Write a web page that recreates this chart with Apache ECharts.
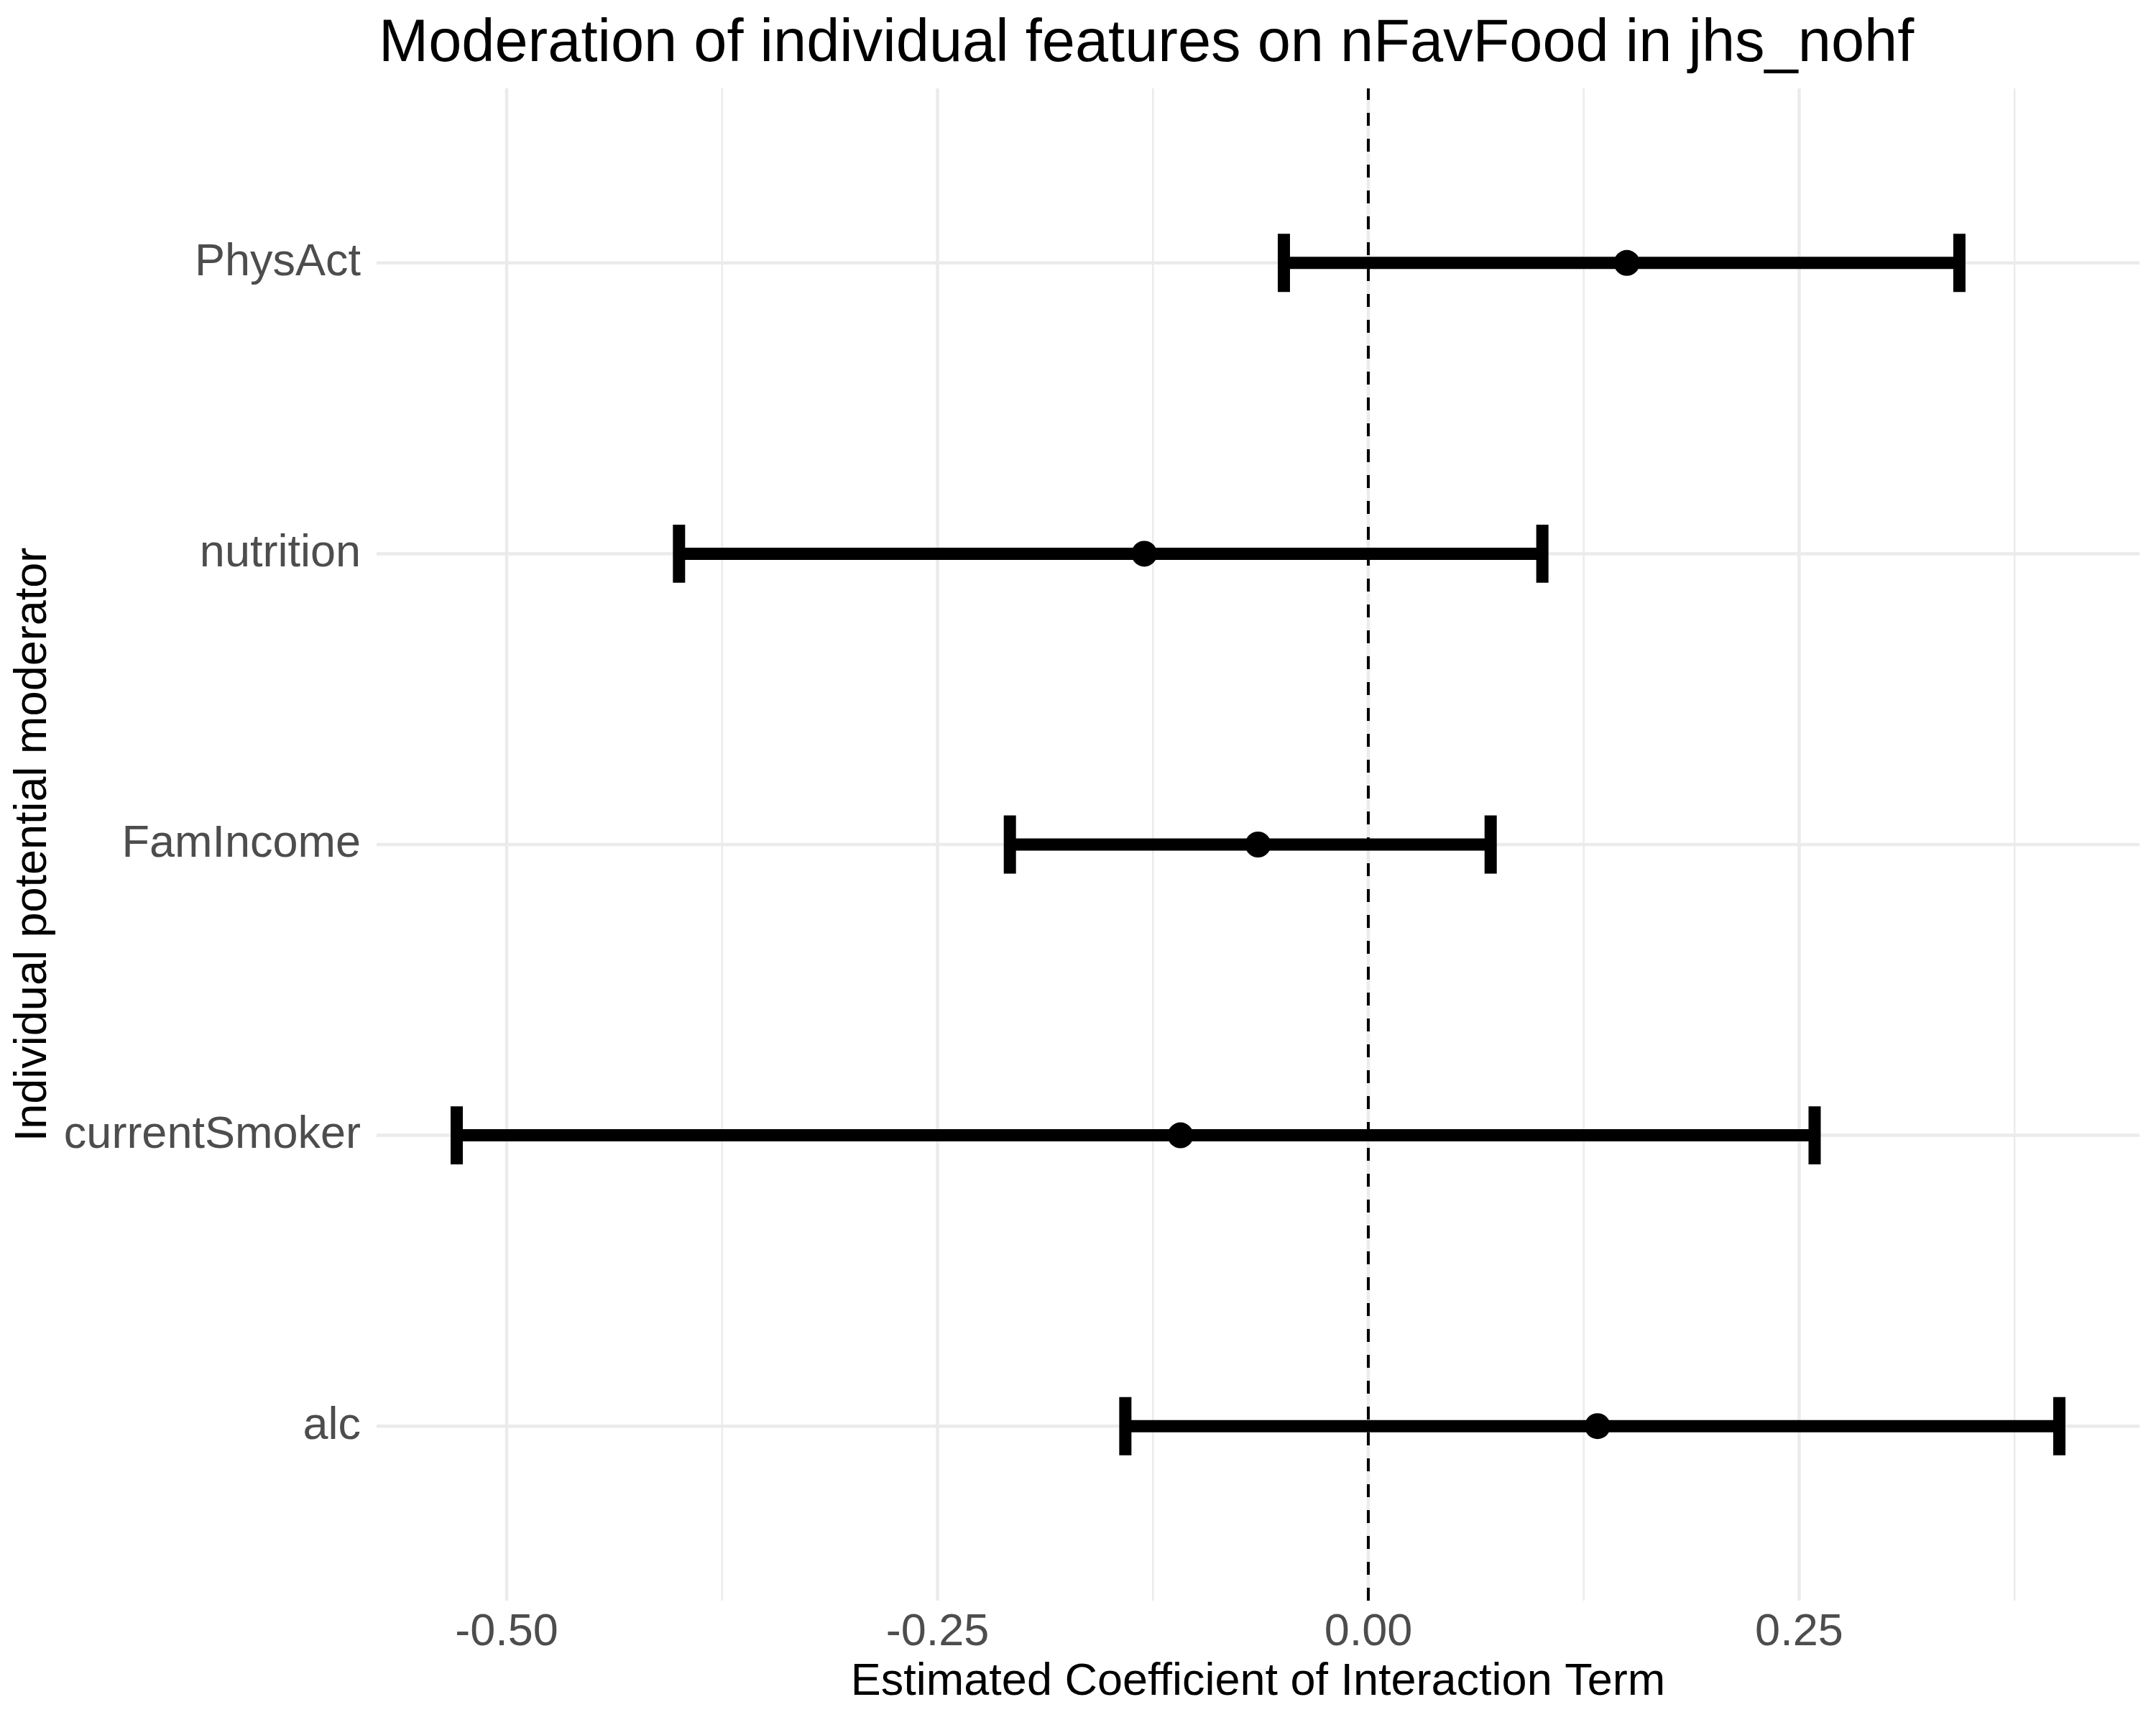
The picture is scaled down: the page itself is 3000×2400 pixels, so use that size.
<!DOCTYPE html>
<html>
<head>
<meta charset="utf-8">
<script src="https://cdn.jsdelivr.net/npm/echarts@6/dist/echarts.min.js"></script>
<style>
html,body{margin:0;padding:0;background:#fff;}
#chart{width:3000px;height:2400px;}
</style>
</head>
<body>
<div id="chart"></div>
<script>
// ---- data ----
const categories = ['alc', 'currentSmoker', 'FamIncome', 'nutrition', 'PhysAct'];
const estimates  = [0.133, -0.109, -0.064, -0.130, 0.150];
const lowerCI    = [-0.141, -0.529, -0.208, -0.400, -0.049];
const upperCI    = [0.401, 0.259, 0.071, 0.101, 0.343];
const xTickValues  = [-0.5, -0.25, 0, 0.25];
const xMinorValues = [-0.375, -0.125, 0.125, 0.375];
const refLineValue = 0;

// ---- scales (ggplot-like expansion) ----
const lo = Math.min.apply(null, lowerCI);
const hi = Math.max.apply(null, upperCI);
const pad = 0.05 * (hi - lo);
const xMin = lo - pad, xMax = hi + pad;
const yMin = 1 - 0.6, yMax = categories.length + 0.6;
const catPos = categories.map((c, i) => i + 1);

const FONT = '"Liberation Sans", Arial, Helvetica, sans-serif';
const GRID = '#EBEBEB';

const chart = echarts.init(document.getElementById('chart'), null, {renderer: 'canvas'});

const gridLineData = []
  .concat(xTickValues.map(v => ({value: [v, 0], kind: 'vmajor'})))
  .concat(xMinorValues.map(v => ({value: [v, 0], kind: 'vminor'})))
  .concat(catPos.map(p => ({value: [0, p], kind: 'h'})));

const option = {
  backgroundColor: '#ffffff',
  animation: false,
  title: {
    text: 'Moderation of individual features on nFavFood in jhs_nohf',
    left: 522,
    top: 16,
    textStyle: {fontFamily: FONT, fontSize: 83, fontWeight: 'normal', color: '#000'}
  },
  grid: {left: 524, right: 23, top: 123, bottom: 173, containLabel: false},
  xAxis: {
    type: 'value',
    min: xMin,
    max: xMax,
    name: 'Estimated Coefficient of Interaction Term',
    nameLocation: 'middle',
    nameGap: 82,
    nameTextStyle: {fontFamily: FONT, fontSize: 63, color: '#000'},
    axisLine: {show: false},
    axisTick: {show: false},
    splitLine: {show: false},
    axisLabel: {
      customValues: xTickValues,
      formatter: v => v.toFixed(2),
      fontFamily: FONT, fontSize: 63, color: '#4D4D4D', margin: 13
    }
  },
  yAxis: {
    type: 'value',
    min: yMin,
    max: yMax,
    name: 'Individual potential moderator',
    nameLocation: 'middle',
    nameGap: 429,
    nameRotate: 90,
    nameTextStyle: {fontFamily: FONT, fontSize: 63, color: '#000'},
    axisLine: {show: false},
    axisTick: {show: false},
    splitLine: {show: false},
    axisLabel: {
      customValues: catPos,
      formatter: v => categories[Math.round(v) - 1] || '',
      fontFamily: FONT, fontSize: 63, color: '#4D4D4D', margin: 22
    }
  },
  series: [
    {
      type: 'custom',
      name: 'grid',
      silent: true,
      z: 0,
      clip: false,
      data: gridLineData,
      renderItem: function (params, api) {
        const item = gridLineData[params.dataIndex];
        let p1, p2, w;
        if (item.kind === 'h') {
          p1 = api.coord([xMin, item.value[1]]);
          p2 = api.coord([xMax, item.value[1]]);
          w = 4.5;
        } else {
          p1 = api.coord([item.value[0], yMin]);
          p2 = api.coord([item.value[0], yMax]);
          w = item.kind === 'vmajor' ? 4.5 : 2.5;
        }
        return {
          type: 'line',
          shape: {x1: p1[0], y1: p1[1], x2: p2[0], y2: p2[1]},
          style: {stroke: GRID, lineWidth: w, lineCap: 'butt'}
        };
      }
    },
    {
      type: 'custom',
      name: 'ref',
      silent: true,
      z: 1,
      data: [[refLineValue]],
      renderItem: function (params, api) {
        const p1 = api.coord([api.value(0), yMin]);
        const p2 = api.coord([api.value(0), yMax]);
        return {
          type: 'line',
          shape: {x1: p1[0], y1: p1[1], x2: p2[0], y2: p2[1]},
          style: {stroke: '#000', lineWidth: 4, lineDash: [18, 18], lineCap: 'butt'}
        };
      }
    },
    {
      type: 'custom',
      name: 'errorbars',
      silent: true,
      z: 2,
      data: categories.map((c, i) => [lowerCI[i], upperCI[i], catPos[i]]),
      renderItem: function (params, api) {
        const l = api.value(0), u = api.value(1), y = api.value(2);
        const a = api.coord([l, y]);
        const b = api.coord([u, y]);
        const capTop = api.coord([l, y + 0.1])[1];
        const capBot = api.coord([l, y - 0.1])[1];
        const st = {stroke: '#000', lineWidth: 17, lineCap: 'butt'};
        return {
          type: 'group',
          children: [
            {type: 'line', shape: {x1: a[0], y1: a[1], x2: b[0], y2: b[1]}, style: st},
            {type: 'line', shape: {x1: a[0], y1: capTop, x2: a[0], y2: capBot}, style: st},
            {type: 'line', shape: {x1: b[0], y1: capTop, x2: b[0], y2: capBot}, style: st}
          ]
        };
      }
    },
    {
      type: 'scatter',
      name: 'estimate',
      z: 3,
      symbol: 'circle',
      symbolSize: 36,
      itemStyle: {color: '#000', opacity: 1},
      data: categories.map((c, i) => [estimates[i], catPos[i]])
    }
  ]
};
chart.setOption(option);
</script>
</body>
</html>
